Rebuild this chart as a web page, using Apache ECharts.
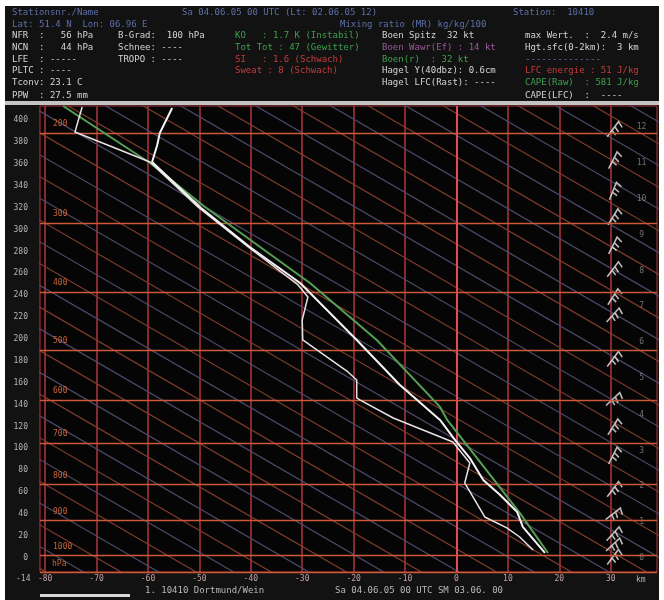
<!DOCTYPE html>
<html>
<head>
<meta charset="utf-8">
<script src="https://cdn.jsdelivr.net/npm/echarts@6/dist/echarts.min.js"></script>
<style>
  html, body { margin: 0; padding: 0; background: #fff; }
  #chart { width: 664px; height: 600px; }
</style>
</head>
<body>
<div id="chart"></div>
<script>
// axis ticks
const tempTicks = [-80, -70, -60, -50, -40, -30, -20, -10, 0, 10, 20, 30];
const flTicks = [0, 20, 40, 60, 80, 100, 120, 140, 160, 180, 200, 220, 240, 260, 280, 300, 320, 340, 360, 380, 400];

// pressure levels (hPa) and their height on the FL axis
const pressureLabels = ['200', '300', '400', '500', '600', '700', '800', '900', '1000'];
const pressureFL = [388, 306, 243, 190, 144, 105, 67, 34, 2];

// km labels on the right
const kmLabels = ['0', '1', '2', '3', '4', '5', '6', '7', '8', '9', '10', '11', '12'];
const kmFL = [0, 33, 66, 98, 131, 164, 197, 230, 262, 295, 328, 361, 394];

// sounding: [temperature C, FL]
const tempProfile = [
  [17.2, 4.4], [12.9, 28.2], [11.8, 41.9], [8.5, 57.4], [5.2, 71.1], [2.6, 91.2],
  [-0.3, 107.7], [-3.2, 126.0], [-11.0, 158.0], [-19.4, 199.1], [-30.4, 251.2],
  [-40.2, 284.1], [-49.9, 320.7], [-59.2, 361.8], [-58.2, 377.4], [-57.7, 388.3], [-55.3, 411.2]
];
const dewProfile = [
  [14.9, 7.1], [12.3, 19.0], [9.8, 27.3], [5.5, 37.3], [1.6, 68.4], [2.6, 86.7],
  [-0.7, 105.9], [-12.3, 127.8], [-18.8, 144.3], [-19.4, 146.1], [-19.4, 162.5],
  [-21.1, 169.9], [-29.9, 199.1], [-30.0, 217.4], [-28.9, 238.4], [-30.8, 249.4],
  [-40.5, 284.1], [-50.3, 320.7], [-59.6, 361.8], [-74.2, 389.2], [-72.8, 412.1]
];
const parcelProfile = [
  [17.8, 4.4], [12.3, 41.0], [-1.8, 126.0], [-3.2, 137.9], [-15.5, 199.1],
  [-28.5, 251.2], [-38.2, 284.1], [-48.9, 320.7], [-59.6, 360.9], [-76.5, 413]
];

// wind barbs along the 30 C line
const windFL = [389, 361, 333, 309, 283, 261, 236, 219, 179, 142, 117, 91, 60, 37, 19, 9, -2];
const windRot = [0, 10, 15, 5, 10, 0, 5, -5, 0, -10, 5, 10, 0, -15, -5, -10, 0];

// dry adiabats: surface temperature of each line, two colour sets
const adiabatA = [-84.6, -70.0, -55.4, -40.8, -26.2, -11.6, 3.0, 17.6, 32.2, 46.8, 61.4, 76.0, 90.6, 105.2, 119.8, 134.4, 149.0, 163.6, 178.2, 192.8];
const adiabatB = [-77.3, -62.7, -48.1, -33.5, -18.9, -4.3, 10.3, 24.9, 39.5, 54.1, 68.7, 83.3, 97.9, 112.5, 127.1, 141.7, 156.3, 170.9, 185.5];
const adiabatSlope = 2.726; // FL per degree

function adiabatLines(bases) {
  const out = [];
  bases.forEach(t0 => {
    out.push([t0 + 20 / adiabatSlope, -20]);
    out.push([t0 - 430 / adiabatSlope, 430]);
    out.push('-');
  });
  return out;
}

const headerTexts = [
  [12, 13, 'Stationsnr./Name', '#5d6fa8'],
  [182, 13, 'Sa 04.06.05 00 UTC (Lt: 02.06.05 12)', '#5d6fa8'],
  [513, 13, 'Station:  10410', '#5d6fa8'],
  [12, 25, 'Lat: 51.4 N  Lon: 06.96 E', '#5d6fa8'],
  [340, 25, 'Mixing ratio (MR) kg/kg/100', '#5d6fa8'],
  [12, 36, 'NFR  :   56 hPa', '#d4d4d4'],
  [118, 36, 'B-Grad:  100 hPa', '#d4d4d4'],
  [235, 36, 'KO   : 1.7 K (Instabil)', '#3f9f4f'],
  [382, 36, 'Boen Spitz  32 kt', '#d4d4d4'],
  [525, 36, 'max Wert.  :  2.4 m/s', '#d4d4d4'],
  [12, 48, 'NCN  :   44 hPa', '#d4d4d4'],
  [118, 48, 'Schnee: ----', '#d4d4d4'],
  [235, 48, 'Tot Tot : 47 (Gewitter)', '#3f9f4f'],
  [382, 48, 'Boen Wawr(Ef) : 14 kt', '#9a5a9a'],
  [525, 48, 'Hgt.sfc(0-2km):  3 km', '#d4d4d4'],
  [12, 60, 'LFE  : -----', '#d4d4d4'],
  [118, 60, 'TROPO : ----', '#d4d4d4'],
  [235, 60, 'SI   : 1.6 (Schwach)', '#c83a3a'],
  [382, 60, 'Boen(r)  : 32 kt', '#3f9f4f'],
  [525, 60, '--------------', '#5d6fa8'],
  [12, 71, 'PLTC : ----', '#d4d4d4'],
  [235, 71, 'Sweat : 8 (Schwach)', '#c83a3a'],
  [382, 71, 'Hagel Y(40dbz): 0.6cm', '#d4d4d4'],
  [525, 71, 'LFC energie : 51 J/kg', '#c83a3a'],
  [12, 83, 'Tconv: 23.1 C', '#d4d4d4'],
  [382, 83, 'Hagel LFC(Rast): ----', '#d4d4d4'],
  [525, 83, 'CAPE(Raw)  : 581 J/kg', '#3f9f4f'],
  [12, 96, 'PPW  : 27.5 mm', '#d4d4d4'],
  [525, 96, 'CAPE(LFC)  :  ----', '#d4d4d4']
];

const font = '9px "DejaVu Sans Mono"';

const graphics = [
  { type: 'rect', z: -100, shape: { x: 5, y: 6, width: 654, height: 594 }, style: { fill: '#121212' } },
  { type: 'rect', z: 10, shape: { x: 5, y: 101, width: 654, height: 4 }, style: { fill: '#c4c4c4' } },
  { type: 'rect', z: 10, shape: { x: 40, y: 594, width: 90, height: 3 }, style: { fill: '#d8d8d8' } },
  { type: 'text', z: 10, style: { x: 145, y: 591, text: '1. 10410 Dortmund/Wein', fill: '#b8b8b8', font: font, verticalAlign: 'middle' } },
  { type: 'text', z: 10, style: { x: 335, y: 591, text: 'Sa 04.06.05 00 UTC SM 03.06. 00', fill: '#b8b8b8', font: font, verticalAlign: 'middle' } },
  { type: 'text', z: 10, style: { x: 16, y: 579, text: '-14', fill: '#b0b0b0', font: '8px "DejaVu Sans Mono"', verticalAlign: 'middle' } },
  { type: 'text', z: 10, style: { x: 636, y: 580, text: 'km', fill: '#b0b0b0', font: '8px "DejaVu Sans Mono"', verticalAlign: 'middle' } },
  { type: 'text', z: 10, style: { x: 52, y: 564, text: 'hPa', fill: '#c8643a', font: '8px "DejaVu Sans Mono"', verticalAlign: 'middle' } }
];
headerTexts.forEach(h => {
  graphics.push({
    type: 'text', z: 10,
    style: { x: h[0], y: h[1], text: h[2], fill: h[3], font: font, verticalAlign: 'middle' }
  });
});

const barbPath = 'path://M4 18 L16 2 L20 8 M12 7 L16 13 M9 11 L13 16';

const chart = echarts.init(document.getElementById('chart'));
const option = {
  backgroundColor: '#ffffff',
  animation: false,
  graphic: graphics,
  grid: {
    left: 40, right: 7, top: 106, bottom: 28,
    show: true, backgroundColor: '#050505', borderColor: '#a83838', borderWidth: 1
  },
  xAxis: {
    type: 'value', min: -81, max: 39,
    axisLine: { show: false },
    axisTick: { show: false, customValues: tempTicks },
    axisLabel: { customValues: tempTicks, color: '#c4a4a4', fontSize: 8, margin: 3, fontFamily: 'DejaVu Sans Mono' },
    splitLine: { show: true, lineStyle: { color: '#b0343e', width: 1.5 } }
  },
  yAxis: {
    type: 'value', min: -13, max: 413,
    axisLine: { show: false },
    axisTick: { show: false, customValues: flTicks },
    axisLabel: { customValues: flTicks, color: '#b4b4b4', fontSize: 8, margin: 12, fontFamily: 'DejaVu Sans Mono' },
    splitLine: { show: false }
  },
  series: [
    {
      type: 'line', data: adiabatLines(adiabatA), symbol: 'none', silent: true, z: 1,
      lineStyle: { color: '#823c2e', width: 1.2 }
    },
    {
      type: 'line', data: adiabatLines(adiabatB), symbol: 'none', silent: true, z: 1,
      lineStyle: { color: '#4e4b6a', width: 1.2 }
    },
    {
      type: 'line', data: [], silent: true, z: 2,
      markLine: {
        silent: true, symbol: 'none', animation: false,
        lineStyle: { color: '#cc5a3a', width: 1.3, type: 'solid' },
        label: { position: 'insideStartTop', formatter: '{b}', color: '#c8643a', fontSize: 8, padding: [0, 0, 0, 8], fontFamily: 'DejaVu Sans Mono' },
        data: pressureFL.map((v, i) => ({ yAxis: v, name: pressureLabels[i] }))
          .concat([
            { yAxis: -13, name: '', label: { show: false } },
            { xAxis: 0, name: '', lineStyle: { color: '#e44c54', width: 2 }, label: { show: false } }
          ])
      }
    },
    {
      type: 'scatter', data: kmFL.map((v, i) => [36, v, kmLabels[i]]), symbolSize: 0, silent: true, z: 3,
      label: { show: true, position: 'inside', formatter: p => p.data[2], color: '#8c8c8c', fontSize: 8, fontFamily: 'DejaVu Sans Mono' }
    },
    {
      type: 'scatter', data: windFL.map((v, i) => ({ value: [30, v], symbolRotate: windRot[i] })),
      symbol: barbPath, symbolSize: 15, symbolKeepAspect: true, symbolOffset: [4, -3], silent: true, z: 4,
      itemStyle: { color: 'rgba(0,0,0,0)', borderColor: '#e8e8e8', borderWidth: 1.6 }
    },
    {
      type: 'line', data: parcelProfile, symbol: 'none', silent: true, z: 5,
      lineStyle: { color: '#55a055', width: 2 }
    },
    {
      type: 'line', data: dewProfile, symbol: 'none', silent: true, z: 6,
      lineStyle: { color: '#e8e0e4', width: 1.5 }
    },
    {
      type: 'line', data: tempProfile, symbol: 'none', silent: true, z: 7,
      lineStyle: { color: '#f4f4f4', width: 2 }
    }
  ]
};
chart.setOption(option);
</script>
</body>
</html>
